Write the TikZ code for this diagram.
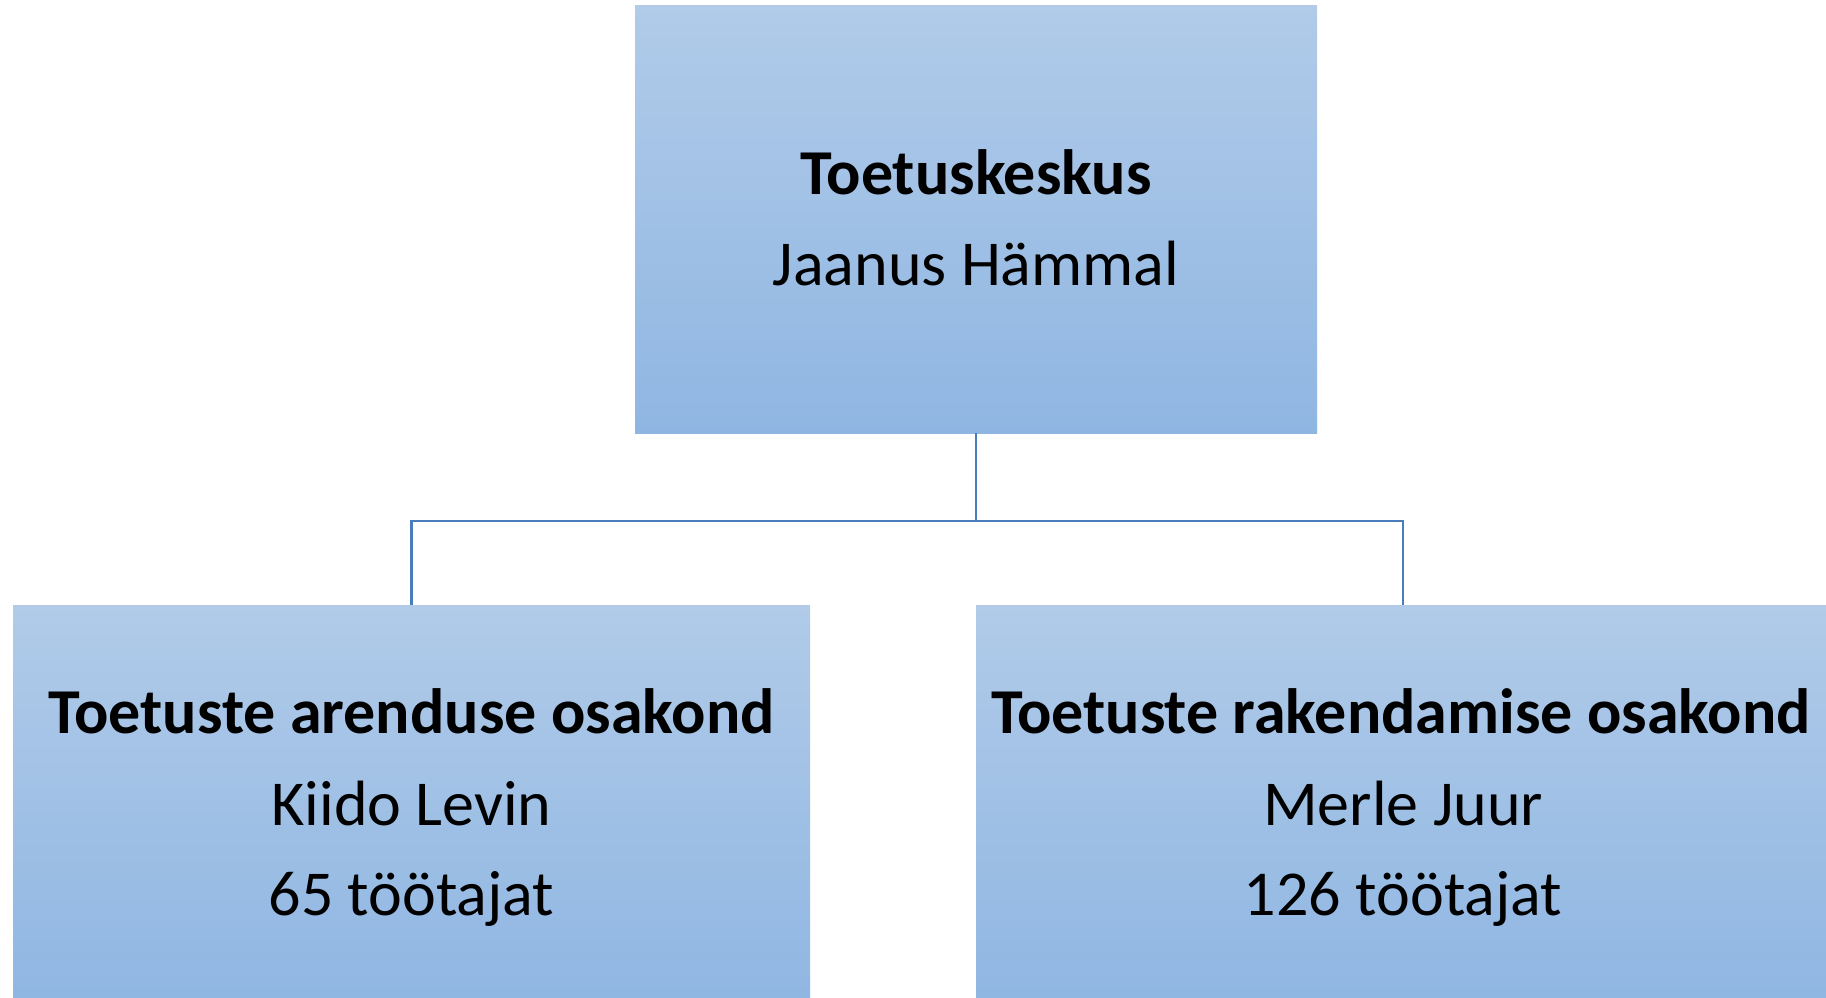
\documentclass[tikz,border=0pt]{standalone}
\usepackage{fontspec}
\setmainfont{Carlito}
\definecolor{boxtop}{RGB}{177,203,233}
\definecolor{boxbot}{RGB}{143,182,226}
\definecolor{connblue}{RGB}{74,126,187}
\tikzset{
  orgbox/.style={rectangle, draw=none, inner sep=0pt, outer sep=0pt, top color=boxtop, bottom color=boxbot},
  conn/.style={draw=connblue, line width=2.6pt},
  title/.style={anchor=base, inner sep=0pt, font=\fontsize{64}{77}\selectfont\bfseries},
  body/.style={anchor=base, inner sep=0pt, font=\fontsize{64}{77}\selectfont}
}
\begin{document}
\begin{tikzpicture}[x=1pt,y=-1pt]
\useasboundingbox[fill=white] (0,0) rectangle (1826,998);
\begin{scope}
\clip (0,0) rectangle (1826,998);
\node[orgbox, minimum width=682pt, minimum height=427pt] (top) at (976,219.5) {};
\node[orgbox, minimum width=797pt, minimum height=399pt] (left) at (411.5,804.5) {};
\node[orgbox, minimum width=854pt, minimum height=399pt] (right) at (1403,804.5) {};
\end{scope}
\coordinate (bus) at (976,521);
\draw[conn] (top.south) -- (bus) -| (left.north);
\draw[conn] (bus) -| (right.north);
\node[title] (t1) at (976,194.5) {Toetuskeskus};
\node[body] (t2) at (976,285) {Jaanus Hämmal};
\node[title] (l1) at (411.5,733) {Toetuste arenduse osakond};
\node[body] (l2) at (411.5,825) {Kiido Levin};
\node[body] (l3) at (411.5,915) {65 töötajat};
\node[title] (r1) at (1401,733) {Toetuste rakendamise osakond};
\node[body] (r2) at (1403,825) {Merle Juur};
\node[body] (r3) at (1403,915) {126 töötajat};
\end{tikzpicture}
\end{document}
